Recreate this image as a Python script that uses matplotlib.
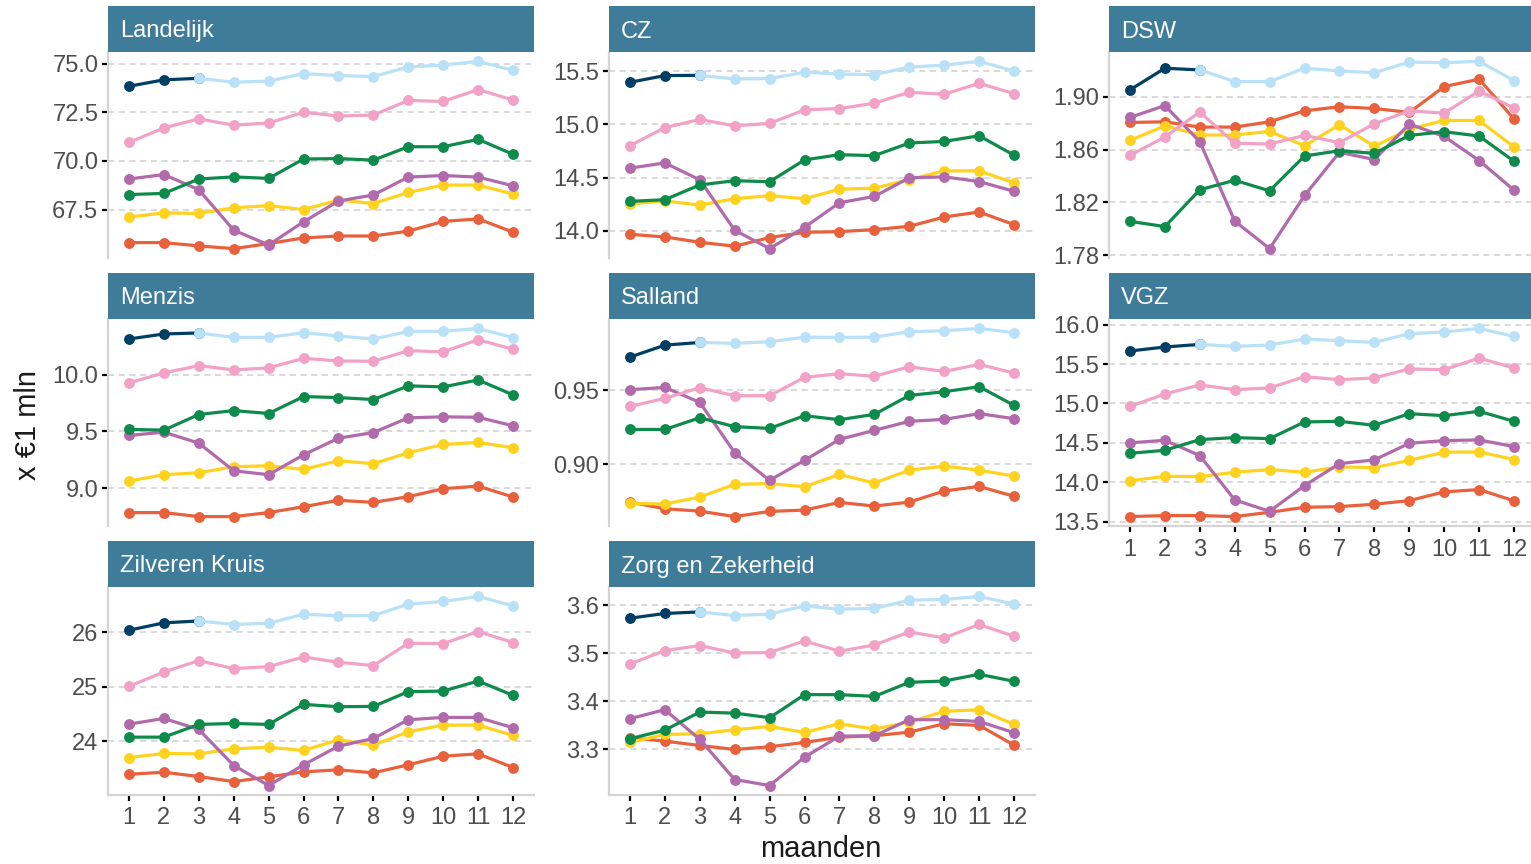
import matplotlib
matplotlib.use("Agg")
import matplotlib.pyplot as plt
from matplotlib.ticker import FormatStrFormatter

plt.rcParams['font.family'] = ['Liberation Sans', 'DejaVu Sans']

months = list(range(1, 13))
month_labels = [str(m) for m in months]

panels = ["Landelijk", "CZ", "DSW", "Menzis", "Salland", "VGZ", "Zilveren Kruis", "Zorg en Zekerheid"]

# current year realisation (months 1-3)
realisatie = {
    "Landelijk": [73.84, 74.17, 74.25],
    "CZ": [15.397, 15.46, 15.4625],
    "DSW": [1.9053, 1.9217, 1.9204],
    "Menzis": [10.313, 10.357, 10.366],
    "Salland": [0.9725, 0.9806, 0.9824],
    "VGZ": [15.666, 15.717, 15.75],
    "Zilveren Kruis": [26.037, 26.171, 26.207],
    "Zorg en Zekerheid": [3.5729, 3.5827, 3.586],
}
# prognosis (months 3-12)
prognose = {
    "Landelijk": [74.25, 74.05, 74.10, 74.49, 74.39, 74.34, 74.83, 74.93, 75.12, 74.66],
    "CZ": [15.4625, 15.428, 15.432, 15.491, 15.475, 15.469, 15.540, 15.559, 15.594, 15.503],
    "DSW": [1.9204, 1.9116, 1.9116, 1.9217, 1.9196, 1.9183, 1.9264, 1.9259, 1.9269, 1.9123],
    "Menzis": [10.366, 10.327, 10.327, 10.368, 10.339, 10.313, 10.38, 10.38, 10.406, 10.325],
    "Salland": [0.9824, 0.9818, 0.9829, 0.986, 0.9858, 0.986, 0.9897, 0.9903, 0.9919, 0.989],
    "VGZ": [15.75, 15.725, 15.742, 15.818, 15.797, 15.775, 15.886, 15.907, 15.953, 15.852],
    "Zilveren Kruis": [26.207, 26.141, 26.165, 26.33, 26.3, 26.306, 26.514, 26.563, 26.655, 26.483],
    "Zorg en Zekerheid": [3.586, 3.5785, 3.5813, 3.5985, 3.5917, 3.5931, 3.6104, 3.6119, 3.6181, 3.6021],
}
pink = {
    "Landelijk": [70.95, 71.70, 72.16, 71.84, 71.95, 72.50, 72.31, 72.36, 73.11, 73.06, 73.67, 73.13],
    "CZ": [14.80, 14.97, 15.047, 14.987, 15.01, 15.137, 15.15, 15.20, 15.303, 15.284, 15.3875, 15.29],
    "DSW": [1.8557, 1.8696, 1.8885, 1.8648, 1.8643, 1.8708, 1.8653, 1.8796, 1.8894, 1.8877, 1.9045, 1.8915],
    "Menzis": [9.927, 10.015, 10.079, 10.041, 10.059, 10.143, 10.12, 10.117, 10.21, 10.2, 10.307, 10.222],
    "Salland": [0.9392, 0.9446, 0.9518, 0.9464, 0.9464, 0.9588, 0.9613, 0.9595, 0.966, 0.9628, 0.9676, 0.9617],
    "VGZ": [14.963, 15.12, 15.235, 15.175, 15.197, 15.34, 15.302, 15.324, 15.438, 15.429, 15.577, 15.45],
    "Zilveren Kruis": [25.009, 25.272, 25.48, 25.334, 25.37, 25.547, 25.45, 25.389, 25.798, 25.792, 26.012, 25.811],
    "Zorg en Zekerheid": [3.4777, 3.5056, 3.516, 3.5006, 3.5015, 3.5256, 3.5042, 3.5173, 3.5444, 3.5319, 3.5598, 3.5354],
}
green = {
    "Landelijk": [68.27, 68.33, 69.07, 69.18, 69.10, 70.10, 70.12, 70.04, 70.73, 70.73, 71.11, 70.34],
    "CZ": [14.275, 14.291, 14.43, 14.47, 14.46, 14.666, 14.715, 14.706, 14.825, 14.84, 14.893, 14.71],
    "DSW": [1.8057, 1.8017, 1.8296, 1.8368, 1.8288, 1.8552, 1.8592, 1.8572, 1.8708, 1.8736, 1.8703, 1.8512],
    "Menzis": [9.518, 9.512, 9.649, 9.684, 9.658, 9.807, 9.798, 9.781, 9.901, 9.892, 9.953, 9.822],
    "Salland": [0.9236, 0.9236, 0.9315, 0.9255, 0.9243, 0.9329, 0.9302, 0.9338, 0.9466, 0.9491, 0.9525, 0.9399],
    "VGZ": [14.367, 14.405, 14.541, 14.566, 14.553, 14.765, 14.773, 14.722, 14.87, 14.845, 14.9, 14.773],
    "Zilveren Kruis": [24.079, 24.079, 24.312, 24.33, 24.312, 24.679, 24.636, 24.642, 24.912, 24.923, 25.107, 24.844],
    "Zorg en Zekerheid": [3.3223, 3.3402, 3.3777, 3.3756, 3.366, 3.414, 3.414, 3.4104, 3.4396, 3.4423, 3.4563, 3.4417],
}
purple = {
    "Landelijk": [69.07, 69.30, 68.52, 66.44, 65.68, 66.87, 67.94, 68.25, 69.17, 69.25, 69.17, 68.72],
    "CZ": [14.588, 14.6375, 14.478, 14.003, 13.83, 14.031, 14.2625, 14.322, 14.497, 14.506, 14.462, 14.37],
    "DSW": [1.8844, 1.8934, 1.866, 1.8059, 1.785, 1.8253, 1.858, 1.8525, 1.8794, 1.87, 1.8517, 1.8293],
    "Menzis": [9.465, 9.494, 9.398, 9.155, 9.12, 9.295, 9.441, 9.491, 9.62, 9.629, 9.625, 9.55],
    "Salland": [0.9505, 0.952, 0.9419, 0.9079, 0.8892, 0.9027, 0.9169, 0.923, 0.9291, 0.9304, 0.9343, 0.9309],
    "VGZ": [14.5, 14.532, 14.338, 13.775, 13.63, 13.957, 14.236, 14.283, 14.494, 14.528, 14.537, 14.452],
    "Zilveren Kruis": [24.317, 24.422, 24.22, 23.56, 23.193, 23.572, 23.914, 24.055, 24.398, 24.44, 24.44, 24.251],
    "Zorg en Zekerheid": [3.364, 3.3827, 3.3208, 3.2375, 3.225, 3.284, 3.3277, 3.3285, 3.3619, 3.3619, 3.3583, 3.3348],
}
yellow = {
    "Landelijk": [67.11, 67.33, 67.30, 67.59, 67.70, 67.50, 67.99, 67.81, 68.38, 68.76, 68.76, 68.30],
    "CZ": [14.25, 14.28, 14.24, 14.30, 14.33, 14.30, 14.39, 14.40, 14.48, 14.5625, 14.5625, 14.45],
    "DSW": [1.867, 1.8781, 1.8711, 1.8711, 1.8738, 1.863, 1.8789, 1.8625, 1.8756, 1.8821, 1.8821, 1.862],
    "Menzis": [9.064, 9.12, 9.138, 9.19, 9.199, 9.167, 9.243, 9.217, 9.313, 9.386, 9.404, 9.357],
    "Salland": [0.8736, 0.8732, 0.8779, 0.8865, 0.887, 0.8849, 0.8932, 0.8874, 0.8961, 0.8988, 0.8961, 0.8921],
    "VGZ": [14.016, 14.075, 14.071, 14.126, 14.16, 14.126, 14.194, 14.185, 14.278, 14.38, 14.385, 14.287],
    "Zilveren Kruis": [23.706, 23.78, 23.774, 23.866, 23.895, 23.835, 24.031, 23.932, 24.178, 24.3, 24.3, 24.11],
    "Zorg en Zekerheid": [3.3146, 3.3313, 3.3327, 3.341, 3.3479, 3.3354, 3.3535, 3.3423, 3.3569, 3.3792, 3.3827, 3.3521],
}
red = {
    "Landelijk": [65.80, 65.80, 65.63, 65.49, 65.75, 66.04, 66.14, 66.14, 66.39, 66.89, 67.02, 66.34],
    "CZ": [13.965, 13.94, 13.89, 13.853, 13.934, 13.984, 13.99, 14.009, 14.04, 14.128, 14.175, 14.056],
    "DSW": [1.8806, 1.8811, 1.8771, 1.8771, 1.8811, 1.8894, 1.8925, 1.8912, 1.8882, 1.9078, 1.9134, 1.8832],
    "Menzis": [8.787, 8.787, 8.752, 8.752, 8.787, 8.839, 8.895, 8.877, 8.927, 8.997, 9.02, 8.924],
    "Salland": [0.8745, 0.87, 0.8684, 0.8647, 0.8682, 0.8691, 0.8743, 0.8718, 0.8745, 0.8820, 0.8851, 0.8784],
    "VGZ": [13.563, 13.576, 13.576, 13.563, 13.618, 13.681, 13.69, 13.72, 13.766, 13.877, 13.906, 13.763],
    "Zilveren Kruis": [23.4, 23.437, 23.358, 23.266, 23.352, 23.444, 23.481, 23.426, 23.573, 23.73, 23.774, 23.523],
    "Zorg en Zekerheid": [3.3244, 3.3173, 3.3083, 3.3, 3.3056, 3.3146, 3.3256, 3.3285, 3.336, 3.3535, 3.35, 3.309],
}

yticks = {
    "Landelijk": [67.5, 70.0, 72.5, 75.0],
    "CZ": [14.0, 14.5, 15.0, 15.5],
    "DSW": [1.78, 1.82, 1.86, 1.90],
    "Menzis": [9.0, 9.5, 10.0],
    "Salland": [0.90, 0.95],
    "VGZ": [13.5, 14.0, 14.5, 15.0, 15.5, 16.0],
    "Zilveren Kruis": [24, 25, 26],
    "Zorg en Zekerheid": [3.3, 3.4, 3.5, 3.6],
}
ytick_fmt = {
    "Landelijk": "%.1f", "CZ": "%.1f", "DSW": "%.2f", "Menzis": "%.1f",
    "Salland": "%.2f", "VGZ": "%.1f", "Zilveren Kruis": "%.0f", "Zorg en Zekerheid": "%.1f",
}

C_RED = "#E8603C"
C_YELLOW = "#FFD21F"
C_PURPLE = "#B16AAB"
C_GREEN = "#0E8A4B"
C_PINK = "#F2A2C6"
C_LBLUE = "#B9E1F8"
C_DBLUE = "#003F63"
STRIP = "#3F7C9A"

W, H = 1531, 864
fig = plt.figure(figsize=(W / 100, H / 100), dpi=100)

col_left = [108, 609, 1109]
col_w = 426
rows = [(52, 258), (319, 526), (587, 795)]
strip_h = 46

lw = 2.3
ms = 6.8

for i, name in enumerate(panels):
    r, c = divmod(i, 3)
    top, bot = rows[r]
    left = col_left[c]
    ax = fig.add_axes([left / W, 1 - bot / H, col_w / W, (bot - top) / H])
    sax = fig.add_axes([left / W, 1 - top / H, col_w / W, strip_h / H])
    sax.set_facecolor(STRIP)
    sax.set_xticks([]); sax.set_yticks([])
    for s in sax.spines.values():
        s.set_visible(False)
    sax.text(12 / col_w, 0.5, name, color="white", fontsize=17,
             ha="left", va="center_baseline", transform=sax.transAxes)

    kw = dict(lw=lw, marker="o", ms=ms, solid_capstyle="round", solid_joinstyle="round")
    ax.plot(months, red[name], color=C_RED, **kw)
    ax.plot(months, yellow[name], color=C_YELLOW, **kw)
    ax.plot(months, purple[name], color=C_PURPLE, **kw)
    ax.plot(months, green[name], color=C_GREEN, **kw)
    ax.plot(months, pink[name], color=C_PINK, **kw)
    ax.plot(months[:3], realisatie[name], color=C_DBLUE, **kw)
    ax.plot(months[2:], prognose[name], color=C_LBLUE, **kw)

    allv = (red[name] + yellow[name] + purple[name] + green[name] + pink[name]
            + realisatie[name] + prognose[name])
    lo, hi = min(allv), max(allv)
    pad = (hi - lo) * 0.05
    ax.set_ylim(lo - pad, hi + pad)
    ax.set_xlim(0.4, 12.6)

    ax.set_yticks(yticks[name])
    ax.yaxis.set_major_formatter(FormatStrFormatter(ytick_fmt[name]))
    ax.grid(axis="y", color="#CFCFCF", linestyle=(0, (4, 3)), lw=1.1)
    ax.set_axisbelow(True)

    for s in ["top", "right"]:
        ax.spines[s].set_visible(False)
    ax.spines["left"].set_color("#D4D4D4")
    ax.spines["left"].set_linewidth(1.6)
    ax.tick_params(axis="y", colors="black", labelcolor="#4D4D4D", labelsize=17,
                   length=4, width=1.6, pad=3)

    show_x = (r == 2) or (name == "VGZ")
    ax.set_xticks(months)
    if show_x:
        ax.spines["bottom"].set_color("#D4D4D4")
        ax.spines["bottom"].set_linewidth(1.6)
        ax.set_xticklabels(month_labels)
        ax.tick_params(axis="x", colors="black", labelcolor="#4D4D4D", labelsize=17,
                       length=4, width=1.6, pad=5)
    else:
        ax.spines["bottom"].set_visible(False)
        ax.tick_params(axis="x", length=0, labelbottom=False)

fig.text(821 / W, 1 - 849 / H, "maanden", ha="center", va="center", fontsize=21, color="#1A1A1A")
fig.text(28 / W, 1 - 425 / H, "x €1 mln", ha="center", va="center", rotation=90,
         fontsize=21, color="#1A1A1A")

fig.savefig("out.png", dpi=100)
